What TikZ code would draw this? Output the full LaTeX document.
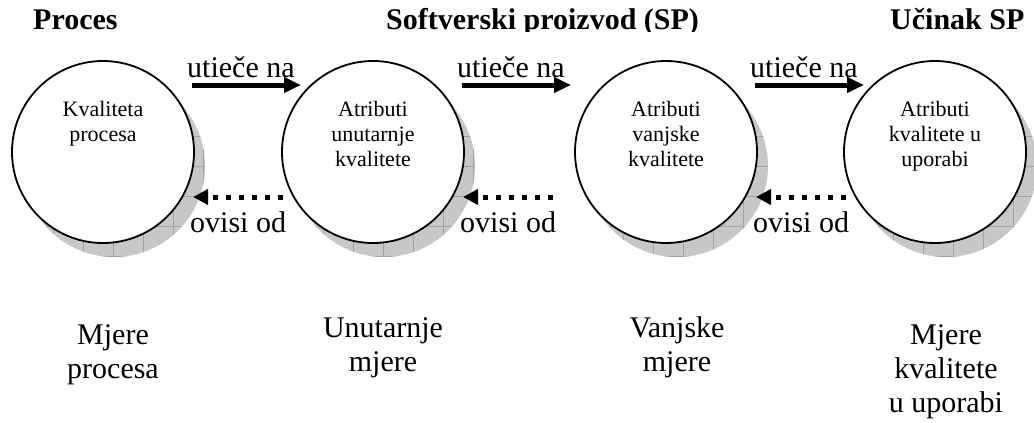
\documentclass[tikz,border=0pt]{standalone}
\usepackage{fontspec}
\setmainfont{Liberation Serif}
\usetikzlibrary{arrows.meta,backgrounds}

\begin{document}
\begin{tikzpicture}[x=1pt, y=-1pt,
    lbl/.style={inner sep=0pt, anchor=base west, font=\fontsize{30}{34}\selectfont},
    ttl/.style={inner sep=0pt, anchor=base west, font=\fontsize{30}{34}\selectfont\bfseries},
    intxt/.style={inner sep=0pt, align=center, anchor=north, font=\fontsize{22}{25}\selectfont},
    meas/.style={inner sep=0pt, align=center, anchor=north, font=\fontsize{30}{34}\selectfont},
    krug/.style={circle, draw, line width=1.8pt, fill=white, minimum size=182pt, inner sep=0pt},
    sjena/.style={fill=black!22, path picture={
        \draw[black!36, line width=0.6pt, xshift=23pt, yshift=-16pt]
          ([shift={(-40pt,-40pt)}]path picture bounding box.south west) grid[step=30pt]
          ([shift={(40pt,40pt)}]path picture bounding box.north east);}},
    utice/.style={line width=5pt, -{Triangle[length=17pt, width=15pt]}},
    ovisi/.style={line width=5pt, dash pattern=on 5pt off 8pt, -{Triangle[length=15pt, width=15pt]}}]
    \useasboundingbox (0,0) rectangle (1034,423);

    % Naslovi (donji rub odrezan)
    \begin{scope}
        \clip (0,0) rectangle (1034,31);
        \node[ttl] (t1) at (33,29) {Proces};
        \node[ttl] (t2) at (386,29) {Softverski proizvod (SP)};
        \node[ttl] (t3) at (890,29) {Učinak SP};
    \end{scope}

    % Krugovi
    \node[krug] (kp) at (103,152) {};
    \node[krug] (uk) at (373,152) {};
    \node[krug] (vk) at (666,152) {};
    \node[krug] (ku) at (935,152) {};

    \begin{scope}[on background layer]
        \fill[sjena] ([shift={(11,14)}]kp.center) circle (91);
        \fill[sjena] ([shift={(11,14)}]uk.center) circle (91);
        \fill[sjena] ([shift={(11,14)}]vk.center) circle (91);
        \fill[sjena] ([shift={(11,14)}]ku.center) circle (91);
    \end{scope}

    \node[intxt] (kpt) at ([yshift=51pt]kp.center) {Kvaliteta\\procesa};
    \node[intxt] (ukt) at ([yshift=51pt]uk.center) {Atributi\\unutarnje\\kvalitete};
    \node[intxt] (vkt) at ([yshift=51pt]vk.center) {Atributi\\vanjske\\kvalitete};
    \node[intxt] (kut) at ([yshift=51pt]ku.center) {Atributi\\kvalitete u\\uporabi};

    % Strelice "utiece na"
    \node[lbl] (ut1) at (187,77) {utieče na};
    \node[lbl] (ut2) at (457,77) {utieče na};
    \node[lbl] (ut3) at (750,77) {utieče na};
    \coordinate (a1) at (192,85);  \coordinate (b1) at (301,85);
    \coordinate (a2) at (462,85);  \coordinate (b2) at (571,85);
    \coordinate (a3) at (755,85);  \coordinate (b3) at (864,85);
    \draw[utice] (a1) -- (b1);
    \draw[utice] (a2) -- (b2);
    \draw[utice] (a3) -- (b3);

    % Strelice "ovisi od"
    \node[lbl] (ov1) at (190,232) {ovisi od};
    \node[lbl] (ov2) at (460,232) {ovisi od};
    \node[lbl] (ov3) at (753,232) {ovisi od};
    \coordinate (c1) at (283,197); \coordinate (d1) at (193,197);
    \coordinate (c2) at (553,197); \coordinate (d2) at (463,197);
    \coordinate (c3) at (846,197); \coordinate (d3) at (756,197);
    \draw[ovisi] (c1) -- (d1);
    \draw[ovisi] (c2) -- (d2);
    \draw[ovisi] (c3) -- (d3);

    % Mjere
    \node[meas] (m1) at (113,324) {Mjere\\procesa};
    \node[meas] (m2) at (383,317) {Unutarnje\\mjere};
    \node[meas] (m3) at (677,316) {Vanjske\\mjere};
    \node[meas] (m4) at (946,324) {Mjere\\kvalitete\\u uporabi};
\end{tikzpicture}
\end{document}
